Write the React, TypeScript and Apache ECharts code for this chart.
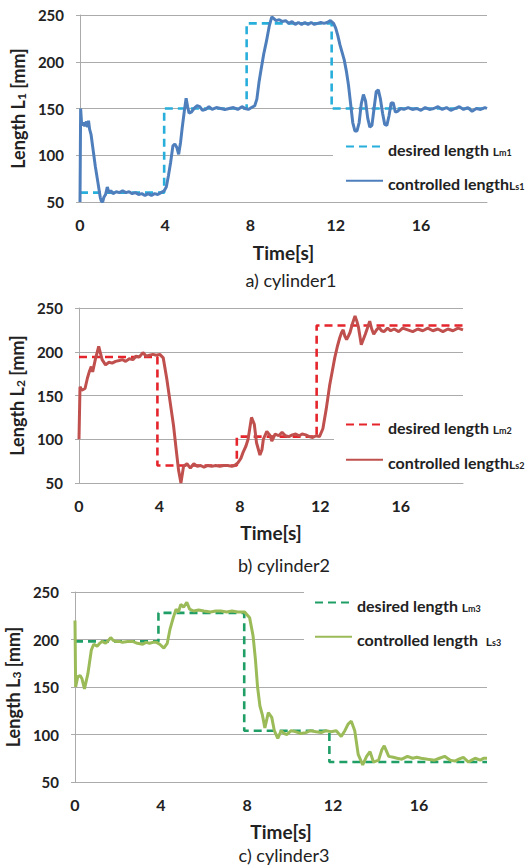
import React, { useEffect, useRef } from 'react';
import * as echarts from 'echarts';

const FONT = 'Lato, "Noto Sans", sans-serif';

// Y axis: min, max, step (mm)
const yMin = 50;
const yMax = 250;
const yStep = 50;
const xStep = 4;

// ---------- cylinder 1 ----------
const desired1: number[][] = [
  [0, 60], [3.95, 60], [3.95, 150], [7.82, 150], [7.82, 241], [11.81, 241], [11.81, 150], [19.1, 150],
];
const controlled1: number[][] = [
  [0, 50], [0.03, 150], [0.08, 132], [0.15, 135], [0.22, 131], [0.3, 136], [0.36, 130], [0.4, 137],
  [0.45, 128], [0.52, 122], [0.62, 105], [0.72, 88], [0.84, 71], [0.95, 55], [1.0, 51], [1.06, 50],
  [1.12, 55], [1.2, 58], [1.28, 66], [1.36, 60], [1.45, 62], [1.55, 59], [1.7, 61], [1.85, 60],
  [2.0, 62], [2.15, 60], [2.3, 61], [2.45, 59], [2.6, 60], [2.75, 58], [2.9, 59], [3.05, 57],
  [3.2, 59], [3.35, 57], [3.5, 59], [3.65, 58], [3.8, 60], [3.95, 62], [4.05, 66], [4.15, 78],
  [4.25, 92], [4.36, 110], [4.45, 112], [4.55, 108], [4.63, 101], [4.72, 114], [4.8, 130], [4.9, 148],
  [4.98, 161], [5.05, 152], [5.12, 145], [5.22, 146], [5.35, 150], [5.5, 153], [5.62, 152], [5.75, 148],
  [5.9, 149], [6.05, 152], [6.2, 149], [6.4, 151], [6.6, 150], [6.8, 149], [7.0, 150], [7.2, 151],
  [7.4, 149], [7.6, 152], [7.75, 150], [7.9, 149], [8.05, 151], [8.2, 153], [8.3, 160], [8.4, 178],
  [8.5, 192], [8.62, 208], [8.75, 222], [8.88, 238], [9.0, 248], [9.1, 246], [9.2, 244], [9.35, 245],
  [9.5, 243], [9.65, 244], [9.8, 241], [9.95, 243], [10.1, 240], [10.25, 242], [10.4, 240], [10.55, 242],
  [10.7, 240], [10.85, 242], [11.0, 240], [11.15, 241], [11.3, 242], [11.45, 241], [11.6, 242], [11.75, 244],
  [11.9, 241], [12.0, 236], [12.1, 228], [12.2, 218], [12.3, 210], [12.4, 202], [12.5, 190], [12.6, 175],
  [12.7, 155], [12.8, 135], [12.9, 126], [13.0, 126], [13.1, 135], [13.2, 155], [13.3, 165], [13.4, 158],
  [13.5, 140], [13.6, 130], [13.7, 132], [13.8, 150], [13.9, 168], [14.0, 170], [14.1, 160], [14.2, 145],
  [14.3, 133], [14.4, 132], [14.5, 142], [14.6, 156], [14.7, 156], [14.8, 146], [14.9, 147], [15.05, 150],
  [15.2, 149], [15.4, 151], [15.6, 149], [15.8, 150], [16.0, 148], [16.2, 151], [16.4, 149], [16.6, 150],
  [16.8, 152], [17.0, 149], [17.2, 151], [17.4, 148], [17.6, 150], [17.8, 152], [18.0, 149], [18.2, 151],
  [18.4, 147], [18.6, 150], [18.8, 149], [19.0, 151], [19.1, 150],
];

// ---------- cylinder 2 ----------
const desired2: number[][] = [
  [0, 194], [3.9, 194], [3.9, 70], [7.85, 70], [7.85, 103], [11.82, 103], [11.82, 230], [19.1, 230],
];
const controlled2: number[][] = [
  [0, 100], [0.05, 160], [0.14, 156], [0.3, 158], [0.42, 170], [0.51, 177], [0.61, 183], [0.68, 177],
  [0.81, 191], [0.98, 206], [1.07, 198], [1.15, 191], [1.32, 185], [1.49, 188], [1.65, 187], [1.82, 189],
  [2.0, 190], [2.16, 191], [2.32, 189], [2.5, 192], [2.68, 191], [2.84, 195], [3.0, 194], [3.18, 199],
  [3.34, 195], [3.5, 196], [3.68, 197], [3.85, 196], [4.02, 197], [4.19, 193], [4.36, 170], [4.53, 143],
  [4.7, 116], [4.83, 89], [4.95, 65], [5.07, 50], [5.2, 69], [5.37, 72], [5.54, 67], [5.71, 72],
  [5.88, 69], [6.05, 70], [6.22, 68], [6.4, 70], [6.6, 69], [6.8, 70], [7.0, 69], [7.2, 70],
  [7.4, 70], [7.6, 69], [7.74, 70], [7.9, 73], [8.05, 78], [8.16, 85], [8.3, 92], [8.41, 100],
  [8.58, 125], [8.72, 117], [8.83, 96], [9.0, 82], [9.1, 88], [9.17, 100], [9.34, 109], [9.51, 104],
  [9.59, 98], [9.76, 106], [9.93, 104], [10.1, 108], [10.27, 104], [10.44, 103], [10.61, 105], [10.78, 106],
  [10.95, 104], [11.1, 106], [11.28, 105], [11.45, 103], [11.62, 102], [11.8, 104], [11.96, 103], [12.13, 112],
  [12.3, 135], [12.47, 162], [12.6, 178], [12.72, 193], [12.85, 206], [12.97, 216], [13.06, 222], [13.14, 225],
  [13.22, 218], [13.31, 214], [13.4, 218], [13.48, 222], [13.6, 232], [13.73, 241], [13.82, 235], [13.9, 228],
  [14.04, 208], [14.14, 214], [14.24, 220], [14.36, 228], [14.46, 235], [14.56, 226], [14.66, 220], [14.8, 225],
  [14.92, 228], [15.05, 224], [15.17, 223], [15.35, 227], [15.5, 224], [15.68, 226], [15.9, 223], [16.1, 227],
  [16.35, 225], [16.6, 223], [16.85, 226], [17.1, 224], [17.35, 227], [17.6, 224], [17.85, 226], [18.1, 223],
  [18.35, 226], [18.6, 224], [18.85, 227], [19.1, 225],
];

// ---------- cylinder 3 ----------
const desired3: number[][] = [
  [0, 198], [3.88, 198], [3.88, 228], [7.87, 228], [7.87, 104], [11.83, 104], [11.83, 71], [19.16, 71],
];
const controlled3: number[][] = [
  [0, 220], [0.03, 150], [0.13, 161], [0.24, 162], [0.32, 159], [0.44, 148], [0.6, 164], [0.76, 189],
  [0.87, 195], [1.03, 193], [1.15, 196], [1.26, 198], [1.42, 196], [1.55, 199], [1.66, 202], [1.78, 199],
  [1.89, 198], [2.05, 198], [2.21, 197], [2.45, 198], [2.68, 198], [2.9, 196], [3.15, 195], [3.3, 197],
  [3.47, 196], [3.62, 197], [3.79, 197], [3.94, 195], [4.13, 191], [4.29, 196], [4.42, 211], [4.57, 223],
  [4.7, 232], [4.81, 229], [4.92, 237], [5.05, 234], [5.2, 239], [5.33, 232], [5.52, 230], [5.75, 231],
  [5.99, 230], [6.3, 229], [6.55, 230], [6.78, 230], [7.05, 229], [7.3, 230], [7.57, 229], [7.89, 229],
  [8.12, 223], [8.28, 204], [8.39, 179], [8.49, 150], [8.6, 130], [8.71, 121], [8.83, 107], [8.99, 123],
  [9.15, 118], [9.27, 104], [9.43, 96], [9.59, 104], [9.72, 101], [9.86, 100], [10.05, 104], [10.25, 103],
  [10.5, 101], [10.73, 102], [10.95, 104], [11.2, 103], [11.45, 102], [11.67, 104], [11.9, 103], [12.15, 104],
  [12.38, 98], [12.55, 104], [12.7, 111], [12.85, 114], [13.01, 104], [13.17, 79], [13.38, 68], [13.56, 77],
  [13.72, 82], [13.88, 71], [14.12, 73], [14.27, 84], [14.38, 88], [14.59, 77], [14.8, 76], [14.98, 75],
  [15.2, 74], [15.46, 77], [15.7, 75], [15.9, 76], [16.09, 75], [16.4, 74], [16.72, 73], [16.95, 75],
  [17.19, 77], [17.45, 73], [17.67, 72], [17.85, 74], [18.06, 76], [18.3, 71], [18.45, 73], [18.61, 75],
  [18.85, 73], [19.0, 75], [19.16, 75],
];

// ---------- labels ----------
const desiredNames = ['desired length Lm1', 'desired length Lm2', 'desired length Lm3'];
const controlledNames = ['controlled length Ls1', 'controlled length Ls2', 'controlled length Ls3'];
const legendRich: Record<string, string> = {
  'desired length Lm1': '{a|desired length }{l|L}{s|m1}',
  'controlled length Ls1': '{a|controlled length}{l|L}{s|s1}',
  'desired length Lm2': '{a|desired length }{l|L}{s|m2}',
  'controlled length Ls2': '{a|controlled length}{l|L}{s|s2}',
  'desired length Lm3': '{a|desired length }{l|L}{s|m3}',
  'controlled length Ls3': '{a|controlled length  }{l|L}{s|s3}',
};
const yNames = ['{a|Length L}{b|1}{a| [mm]}', '{a|Length L}{b|2}{a| [mm]}', '{a|Length L}{b|3}{a| [mm]}'];
const xName = 'Time[s]';
const captions = ['a) cylinder1', 'b) cylinder2', 'c) cylinder3'];

const desiredColors = ['#27AEDB', '#E5242B', '#1F9E66'];
const controlledColors = ['#4E7FBC', '#C0504D', '#9BBB59'];

// ---------- layout ----------
const grids = [
  { left: 80, top: 15, width: 407, height: 187 },
  { left: 79, top: 308, width: 384, height: 175 },
  { left: 75, top: 592, width: 412, height: 190 },
];
const xMaxes = [19.1, 19.1, 19.16];
const yNameGaps = [51, 47, 50];
const xNameGaps = [40, 39, 39];
const xLabelMargins = [14, 14, 14];
const legendBoxes = [
  { left: 333, top: 135, padding: [6, 0, 6, 12], itemGap: 18 },
  { left: 334, top: 411, padding: [8, 0, 6, 11], itemGap: 19 },
  { left: 304, top: 589, padding: [8, 0, 6, 10], itemGap: 18 },
];
const captionPos = [
  { x: 291, y: 280 },
  { x: 284, y: 565 },
  { x: 284, y: 855 },
];

const GRID_COLOR = '#ABABAB';
const TEXT_COLOR = '#222';

export default function App() {
  const ref = useRef<HTMLDivElement>(null);
  useEffect(() => {
    if (!ref.current) return;
    const chart = echarts.init(ref.current, null, { renderer: 'svg' });
    const desiredData = [desired1, desired2, desired3];
    const controlledData = [controlled1, controlled2, controlled3];

    const option: any = {
      animation: false,
      backgroundColor: '#fff',
      textStyle: { fontFamily: FONT },
      grid: grids.map((g) => ({ ...g, containLabel: false, outerBoundsMode: 'none' })),
      xAxis: grids.map((_, i) => ({
        type: 'value',
        gridIndex: i,
        min: 0,
        max: xMaxes[i],
        interval: xStep,
        name: xName,
        nameLocation: 'middle',
        nameGap: xNameGaps[i],
        nameTextStyle: { fontFamily: FONT, fontWeight: 'bold', fontSize: 19, color: TEXT_COLOR, lineHeight: 20 },
        axisLine: { show: true, lineStyle: { color: GRID_COLOR, width: 1 } },
        axisTick: { show: false },
        splitLine: { show: false },
        axisLabel: {
          showMaxLabel: false,
          margin: xLabelMargins[i],
          fontFamily: FONT,
          fontWeight: 'bold',
          fontSize: 16,
          color: TEXT_COLOR,
        },
      })),
      yAxis: grids.map((_, i) => ({
        type: 'value',
        gridIndex: i,
        min: yMin,
        max: yMax,
        interval: yStep,
        name: yNames[i],
        nameLocation: 'middle',
        nameRotate: 90,
        nameGap: yNameGaps[i],
        nameTextStyle: {
          fontFamily: FONT,
          fontWeight: 'bold',
          color: TEXT_COLOR,
          rich: {
            a: { fontFamily: FONT, fontWeight: 'bold', fontSize: 18, color: TEXT_COLOR, lineHeight: 23, verticalAlign: 'bottom' },
            b: { fontFamily: FONT, fontWeight: 'bold', fontSize: 12, color: TEXT_COLOR, lineHeight: 12, verticalAlign: 'bottom' },
          },
        },
        axisLine: { show: true, lineStyle: { color: GRID_COLOR, width: 1 } },
        axisTick: { show: true, inside: false, length: 4, lineStyle: { color: GRID_COLOR } },
        splitLine: { show: true, lineStyle: { color: GRID_COLOR, width: 1, type: 'solid' } },
        axisLabel: {
          margin: 16,
          fontFamily: FONT,
          fontWeight: 'bold',
          fontSize: 15,
          color: TEXT_COLOR,
        },
      })),
      legend: grids.map((_, i) => ({
        data: [desiredNames[i], controlledNames[i]],
        orient: 'vertical',
        left: legendBoxes[i].left,
        top: legendBoxes[i].top,
        padding: legendBoxes[i].padding,
        itemGap: legendBoxes[i].itemGap,
        itemWidth: 37,
        itemHeight: 14,
        backgroundColor: '#fff',
        selectedMode: false,
        itemStyle: { opacity: 0 },
        formatter: (name: string) => legendRich[name] || name,
        textStyle: {
          fontFamily: FONT,
          fontWeight: 'bold',
          fontSize: 16,
          color: TEXT_COLOR,
          rich: {
            a: { fontFamily: FONT, fontWeight: 'bold', fontSize: 16, color: TEXT_COLOR, lineHeight: 21, verticalAlign: 'bottom' },
            l: { fontFamily: FONT, fontWeight: 'bold', fontSize: 12, color: TEXT_COLOR, lineHeight: 16, verticalAlign: 'bottom' },
            s: { fontFamily: FONT, fontWeight: 'bold', fontSize: 9, color: TEXT_COLOR, lineHeight: 14, verticalAlign: 'bottom' },
          },
        },
      })),
      series: grids.flatMap((_, i) => [
        {
          type: 'line',
          name: desiredNames[i],
          xAxisIndex: i,
          yAxisIndex: i,
          data: desiredData[i],
          symbol: 'none',
          showSymbol: false,
          z: 2,
          lineStyle: { color: desiredColors[i], width: 2.6, type: [8, 5] },
          itemStyle: { color: desiredColors[i] },
        },
        {
          type: 'line',
          name: controlledNames[i],
          xAxisIndex: i,
          yAxisIndex: i,
          data: controlledData[i],
          symbol: 'none',
          showSymbol: false,
          z: 3,
          lineStyle: { color: controlledColors[i], width: 3 },
          itemStyle: { color: controlledColors[i] },
        },
      ]),
      graphic: captions.map((c, i) => ({
        type: 'text',
        x: captionPos[i].x,
        y: captionPos[i].y,
        style: {
          text: c,
          fontFamily: FONT,
          fontSize: 18,
          lineHeight: 18,
          fill: TEXT_COLOR,
          textAlign: 'center',
          textVerticalAlign: 'middle',
        },
      })),
    };
    chart.setOption(option);
    return () => chart.dispose();
  }, []);
  return (
    <div
      ref={ref}
      style={{ position: 'absolute', left: 0, top: 0, width: 532, height: 865 }}
    />
  );
}
